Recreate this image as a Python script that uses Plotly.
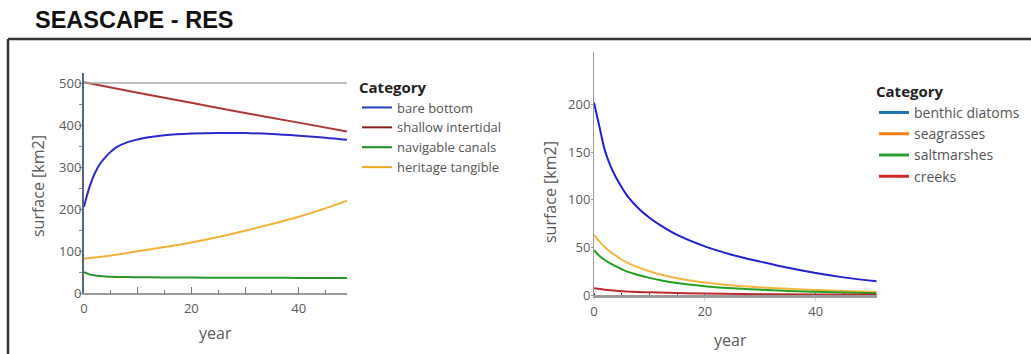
import plotly.graph_objects as go

# ---------------- data ----------------
# Left panel: land-use categories
left_years = [0, 1, 2, 3, 4, 5, 6, 8, 10, 12, 15, 20, 25, 30, 35, 40, 45, 49]
bare_bottom = [206, 252, 285, 308, 324, 337, 347, 359, 366, 371, 376, 380, 381.5, 381, 379, 375, 370, 365]
navigable_canals = [50, 45, 42.5, 41, 40, 39.5, 39, 38.5, 38, 38, 37.5, 37.5, 37, 37, 37, 36.5, 36.5, 36.5]
intertidal_years = [0, 10, 20, 30, 40, 49]
shallow_intertidal = [502, 477, 453, 429, 406, 385]
heritage_years = [0, 5, 10, 15, 20, 25, 30, 35, 40, 45, 49]
heritage_tangible = [82, 90, 100, 110, 121, 134, 149, 165, 182, 202, 220]

# Right panel: habitat categories
right_years = [0, 1, 2, 3, 4, 5, 6, 8, 10, 12, 15, 20, 25, 30, 35, 40, 45, 51]
benthic_diatoms = [202, 176, 151, 135, 123, 113, 104, 91, 81, 73, 63, 51, 42, 35, 28.5, 23, 18.5, 14.5]
seagrasses = [63, 56, 50, 45, 41, 37, 34, 29, 25, 21.5, 17.5, 13, 10, 8, 6.5, 5.3, 4.2, 3.2]
saltmarshes = [47, 41, 36.5, 33, 30, 27, 24.5, 21, 18, 15.5, 12.5, 9.3, 7, 5.5, 4.3, 3.4, 2.6, 1.9]
creeks_years = [0, 2, 5, 10, 15, 20, 30, 40, 51]
creeks = [7, 5.5, 4, 2.8, 2, 1.5, 0.9, 0.5, 0.3]

left_ticks = [0, 100, 200, 300, 400, 500]
right_ticks = [0, 50, 100, 150, 200]
year_ticks = [0, 20, 40]

W, H = 1031, 354


def px(x):
    return x / W


def py(y):
    return 1 - y / H


fig = go.Figure()

# left panel lines
left_series = [
    (left_years, bare_bottom, "#2a2acc"),
    (intertidal_years, shallow_intertidal, "#b03636"),
    (left_years, navigable_canals, "#2a962a"),
    (heritage_years, heritage_tangible, "#f2b03a"),
]
for xs, ys, col in left_series:
    fig.add_trace(go.Scatter(x=xs, y=ys, mode="lines", line=dict(color=col, width=2, shape="spline"),
                             showlegend=False, xaxis="x", yaxis="y", hoverinfo="skip"))

# right panel lines
right_series = [
    (right_years, benthic_diatoms, "#2020cc"),
    (right_years, seagrasses, "#f5b640"),
    (right_years, saltmarshes, "#22a022"),
    (creeks_years, creeks, "#c0282d"),
]
for xs, ys, col in right_series:
    fig.add_trace(go.Scatter(x=xs, y=ys, mode="lines", line=dict(color=col, width=2, shape="spline"),
                             showlegend=False, xaxis="x2", yaxis="y2", hoverinfo="skip"))

# legend entries
left_legend = [("bare bottom", "#1f3fb8"), ("shallow intertidal", "#8b1a1a"),
               ("navigable canals", "#1a8a1a"), ("heritage tangible", "#f0a820")]
for name, col in left_legend:
    fig.add_trace(go.Scatter(x=[None], y=[None], mode="lines", name=name,
                             line=dict(color=col, width=2), legend="legend", xaxis="x", yaxis="y"))

right_legend = [("benthic diatoms", "#1f77b4"), ("seagrasses", "#ff7f0e"),
                ("saltmarshes", "#2ca02c"), ("creeks", "#d62728")]
for name, col in right_legend:
    fig.add_trace(go.Scatter(x=[None], y=[None], mode="lines", name=name,
                             line=dict(color=col, width=3), legend="legend2", xaxis="x2", yaxis="y2"))

tick_font = dict(family="Open Sans", size=13, color="#5a5a5a")

fig.update_layout(
    width=W, height=H,
    margin=dict(l=0, r=0, t=0, b=0, autoexpand=False),
    paper_bgcolor="white", plot_bgcolor="white",
    xaxis=dict(domain=[px(84), px(347)], range=[0, 49], anchor="y", automargin=False,
               showline=True, linecolor="#9a9a9a", linewidth=1.5, showgrid=False, zeroline=False,
               tickvals=[0, 10, 20, 30, 40], ticktext=["0", "", "20", "", "40"],
               ticks="inside", ticklen=7, tickcolor="#777", tickwidth=1,
               minor=dict(tickvals=[5, 15, 25, 35, 45], ticks="inside", ticklen=4, tickcolor="#777"),
               tickfont=tick_font, ticklabelstandoff=2),
    yaxis=dict(domain=[py(293.3), py(73)], range=[0, 524], anchor="x", automargin=False,
               showline=True, linecolor="#56657a", linewidth=2, showgrid=False, zeroline=False,
               tickvals=left_ticks, ticks="", tickfont=tick_font, ticklabelstandoff=-2,
               minor=dict(dtick=50, ticks="outside", ticklen=3, tickcolor="#888")),
    xaxis2=dict(domain=[px(594), px(876.7)], range=[0, 51], anchor="y2", automargin=False,
                showline=True, linecolor="#9a9a9a", linewidth=2.5, showgrid=False, zeroline=False,
                tickvals=year_ticks, ticks="outside", ticklen=3, tickcolor="#c8d8ea",
                minor=dict(dtick=5, ticks="inside", ticklen=2, tickcolor="#555"),
                tickfont=tick_font, ticklabelstandoff=0),
    yaxis2=dict(domain=[py(295), py(52)], range=[0, 255], anchor="x2", automargin=False,
                showline=True, linecolor="#9a9a9a", linewidth=1, showgrid=False, zeroline=False,
                tickvals=right_ticks, ticks="outside", ticklen=2, tickcolor="#999", tickfont=tick_font,
                ticklabelstandoff=-2),
    legend=dict(x=px(357), y=py(73), xanchor="left", yanchor="top",
                title=dict(text="<b>Category</b>", font=dict(family="Open Sans", size=15, color="#222")),
                font=dict(family="Open Sans", size=13, color="#555"),
                bgcolor="rgba(0,0,0,0)", tracegroupgap=0, itemwidth=30),
    legend2=dict(x=px(874), y=py(77.5), xanchor="left", yanchor="top",
                 title=dict(text="<b>Category</b>", font=dict(family="Open Sans", size=15, color="#222")),
                 font=dict(family="Open Sans", size=14, color="#555"),
                 bgcolor="rgba(0,0,0,0)", tracegroupgap=0, itemwidth=30),
    showlegend=True,
)

# reference line at the top of the left panel
fig.add_shape(type="line", xref="x", yref="y", x0=0, x1=49, y0=500, y1=500,
              line=dict(color="#aaaaaa", width=1.5))

# outer frame (left and top edges)
fig.add_shape(type="line", xref="paper", yref="paper", x0=px(8), x1=px(8), y0=0, y1=py(39),
              line=dict(color="#333", width=2.5))
fig.add_shape(type="line", xref="paper", yref="paper", x0=px(8), x1=1, y0=py(39), y1=py(39),
              line=dict(color="#333", width=2.5))

axis_title_font = dict(family="Open Sans", size=16, color="#5a5a5a")
annotations = [
    dict(text="<b>SEASCAPE - RES</b>", x=px(33), y=py(20), xanchor="left", yanchor="middle",
         font=dict(family="Liberation Sans", size=23.5, color="#111")),
    dict(text="year", x=px(215), y=py(333), xanchor="center", yanchor="middle", font=axis_title_font),
    dict(text="year", x=px(730), y=py(340), xanchor="center", yanchor="middle", font=axis_title_font),
    dict(text="surface [km2]", x=px(38), y=py(186), xanchor="center", yanchor="middle",
         textangle=-90, font=axis_title_font),
    dict(text="surface [km2]", x=px(550), y=py(192), xanchor="center", yanchor="middle",
         textangle=-90, font=axis_title_font),
]
for a in annotations:
    fig.add_annotation(xref="paper", yref="paper", showarrow=False, **a)

fig.write_html("out.html")
